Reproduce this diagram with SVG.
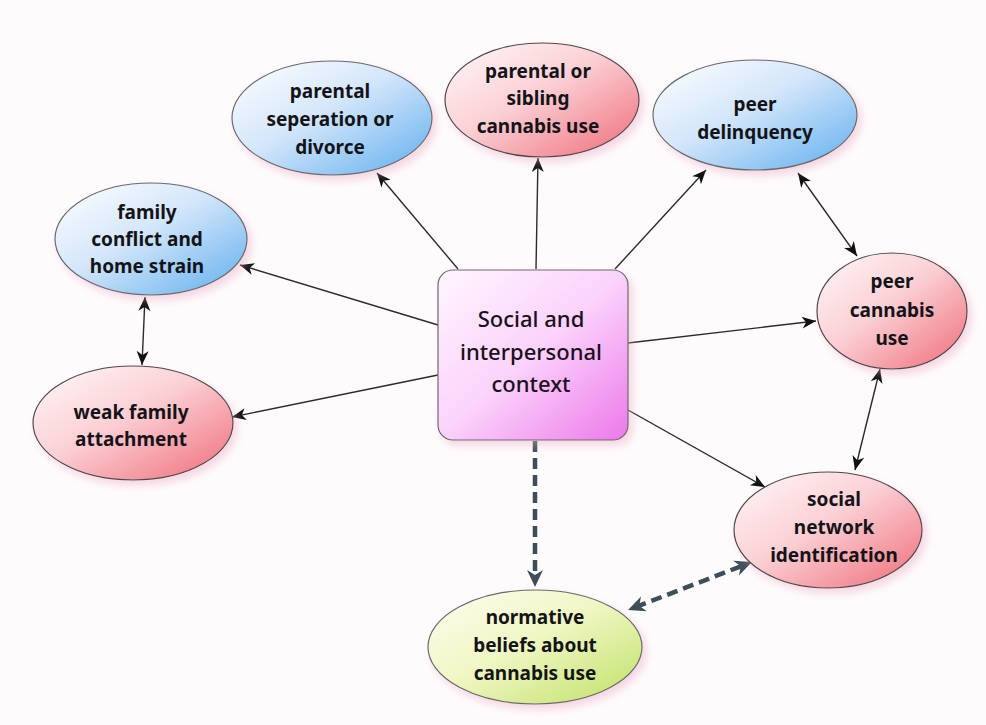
<svg xmlns="http://www.w3.org/2000/svg" width="986" height="725" viewBox="0 0 986 725">
  <defs>
    <linearGradient id="gBlue" x1="0" y1="0" x2="1" y2="1">
      <stop offset="0" stop-color="#ffffff"/>
      <stop offset="0.45" stop-color="#d3e6fa"/>
      <stop offset="1" stop-color="#5eaeee"/>
    </linearGradient>
    <linearGradient id="gRed" x1="0" y1="0" x2="1" y2="1">
      <stop offset="0" stop-color="#fff8f9"/>
      <stop offset="0.45" stop-color="#fbd0d5"/>
      <stop offset="1" stop-color="#ef6b77"/>
    </linearGradient>
    <linearGradient id="gGreen" x1="0" y1="0" x2="1" y2="1">
      <stop offset="0" stop-color="#fdfdf2"/>
      <stop offset="0.45" stop-color="#f0f7c4"/>
      <stop offset="1" stop-color="#bfe166"/>
    </linearGradient>
    <linearGradient id="gPink" x1="0" y1="0" x2="1" y2="1">
      <stop offset="0" stop-color="#fff6ff"/>
      <stop offset="0.5" stop-color="#fbd2fb"/>
      <stop offset="1" stop-color="#ec78ea"/>
    </linearGradient>
    <filter id="shadow" x="-20%" y="-20%" width="150%" height="150%">
      <feGaussianBlur in="SourceAlpha" stdDeviation="4"/>
      <feOffset dx="4" dy="5" result="b"/>
      <feFlood flood-color="#e8a8c0" flood-opacity="0.45"/>
      <feComposite in2="b" operator="in"/>
      <feMerge>
        <feMergeNode/>
        <feMergeNode in="SourceGraphic"/>
      </feMerge>
    </filter>
    <marker id="head" viewBox="-16 -8 18 16" refX="0" refY="0" markerWidth="18" markerHeight="16" markerUnits="userSpaceOnUse" orient="auto-start-reverse">
      <path d="M0,0 L-14,-6 L-10,0 L-14,6 Z" fill="#111"/>
    </marker>
    <marker id="headDash" viewBox="-26 -10 28 20" refX="-8" refY="0" markerWidth="28" markerHeight="20" markerUnits="userSpaceOnUse" orient="auto-start-reverse">
      <path d="M0,0 L-17,-8 L-12,0 L-17,8 Z" fill="#3e4e58"/>
    </marker>
    <style>
      .link { fill: none; stroke: #2b2b2b; stroke-width: 1.4; marker-end: url(#head); }
      .both { marker-start: url(#head); }
      .dash { fill: none; stroke: #3e4e58; stroke-width: 4.5; stroke-dasharray: 11 6; marker-end: url(#headDash); }
      .dboth { marker-start: url(#headDash); }
      .node { stroke: #6a6a6a; stroke-width: 1.2; filter: url(#shadow); }
      .red { stroke: #4a4a4a; }
      .lbl { font-family: "Noto Sans", "DejaVu Sans", sans-serif; font-weight: bold; font-size: 19px; fill: #141418; text-anchor: middle; }
      .hub { font-family: "Noto Sans", "DejaVu Sans", sans-serif; font-weight: 500; font-size: 22px; fill: #1a1020; text-anchor: middle; }
    </style>
  </defs>

  <rect width="986" height="725" fill="#fefbfd"/>

  <g id="connectors">
    <line class="link" x1="458" y1="269" x2="377" y2="173"/>
    <line class="link" x1="536" y1="269" x2="538" y2="158"/>
    <line class="link" x1="615" y1="269" x2="706" y2="170"/>
    <line class="link" x1="438" y1="325" x2="240" y2="265"/>
    <line class="link" x1="438" y1="375" x2="232" y2="417"/>
    <line class="link" x1="628" y1="343" x2="816" y2="321"/>
    <line class="link" x1="628" y1="410" x2="765" y2="487"/>
    <line class="link both" x1="145" y1="297" x2="142" y2="365"/>
    <line class="link both" x1="798" y1="173" x2="857" y2="256"/>
    <line class="link both" x1="880" y1="369" x2="855" y2="470"/>
    <line class="dash" x1="535" y1="441" x2="535" y2="579"/>
    <line class="dash dboth" x1="635.5" y1="607.1" x2="744.5" y2="564.9"/>
  </g>

  <g id="hub">
    <rect class="node" x="438" y="270" width="190" height="170" rx="15" ry="15" fill="url(#gPink)" stroke="#4a3a4a"/>
    <text class="hub" x="531" y="327">Social and</text>
    <text class="hub" x="531" y="360">interpersonal</text>
    <text class="hub" x="531" y="392">context</text>
  </g>

  <g id="family-conflict">
    <ellipse class="node" cx="151" cy="239" rx="96" ry="56" fill="url(#gBlue)"/>
    <text class="lbl" x="147" y="219">family</text>
    <text class="lbl" x="147" y="246">conflict and</text>
    <text class="lbl" x="147" y="273">home strain</text>
  </g>

  <g id="weak-family-attachment">
    <ellipse class="node red" cx="133" cy="423" rx="100" ry="57" fill="url(#gRed)"/>
    <text class="lbl" x="131" y="419">weak family</text>
    <text class="lbl" x="131" y="446">attachment</text>
  </g>

  <g id="parental-separation">
    <ellipse class="node" cx="332" cy="118" rx="100" ry="57" fill="url(#gBlue)"/>
    <text class="lbl" x="330" y="98">parental</text>
    <text class="lbl" x="330" y="126">seperation or</text>
    <text class="lbl" x="330" y="154">divorce</text>
  </g>

  <g id="parental-sibling-use">
    <ellipse class="node red" cx="542" cy="100" rx="97" ry="57" fill="url(#gRed)"/>
    <text class="lbl" x="538" y="78">parental or</text>
    <text class="lbl" x="538" y="105">sibling</text>
    <text class="lbl" x="538" y="133">cannabis use</text>
  </g>

  <g id="peer-delinquency">
    <ellipse class="node" cx="755" cy="115" rx="102" ry="55" fill="url(#gBlue)"/>
    <text class="lbl" x="755" y="111">peer</text>
    <text class="lbl" x="755" y="139">delinquency</text>
  </g>

  <g id="peer-cannabis-use">
    <ellipse class="node red" cx="892" cy="311" rx="75" ry="58" fill="url(#gRed)"/>
    <text class="lbl" x="892" y="288">peer</text>
    <text class="lbl" x="892" y="317">cannabis</text>
    <text class="lbl" x="892" y="345">use</text>
  </g>

  <g id="social-network-identification">
    <ellipse class="node red" cx="828" cy="530" rx="94" ry="58" fill="url(#gRed)"/>
    <text class="lbl" x="834" y="506">social</text>
    <text class="lbl" x="834" y="534">network</text>
    <text class="lbl" x="834" y="562">identification</text>
  </g>

  <g id="normative-beliefs">
    <ellipse class="node" cx="535" cy="647" rx="107" ry="57" fill="url(#gGreen)"/>
    <text class="lbl" x="535" y="624">normative</text>
    <text class="lbl" x="535" y="652">beliefs about</text>
    <text class="lbl" x="535" y="680">cannabis use</text>
  </g>
</svg>
